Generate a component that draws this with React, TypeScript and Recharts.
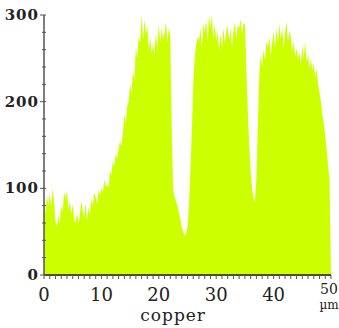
import React from 'react';
import { AreaChart, Area, XAxis, YAxis, Label } from 'recharts';

// Copper line-scan intensity, sampled every 0.25 µm (4 values per µm row)
const STEP_UM = 0.25;
const intensity: number[] = [
  88, 70, 92, 80, // 0
  95, 78, 100, 85, // 1
  62, 55, 68, 60, // 2
  80, 72, 96, 88, // 3
  98, 75, 85, 70, // 4
  82, 65, 60, 72, // 5
  58, 70, 85, 75, // 6
  66, 84, 62, 78, // 7
  70, 88, 80, 95, // 8
  90, 82, 98, 92, // 9
  100, 95, 110, 102, // 10
  105, 100, 120, 115, // 11
  132, 125, 140, 135, // 12
  145, 155, 148, 165, // 13
  185, 175, 195, 200, // 14
  220, 210, 235, 225, // 15
  262, 250, 275, 268, // 16
  300, 272, 295, 278, // 17
  288, 258, 275, 255, // 18
  268, 252, 280, 262, // 19
  290, 268, 285, 272, // 20
  280, 292, 268, 285, // 21
  278, 170, 100, 90, // 22
  85, 80, 72, 65, // 23
  55, 50, 45, 48, // 24
  55, 80, 120, 165, // 25
  220, 250, 265, 275, // 26
  270, 285, 262, 290, // 27
  280, 295, 268, 300, // 28
  285, 300, 272, 290, // 29
  270, 282, 258, 278, // 30
  262, 285, 268, 280, // 31
  288, 270, 285, 262, // 32
  280, 292, 272, 288, // 33
  285, 295, 278, 290, // 34
  290, 240, 190, 150, // 35
  120, 100, 88, 85, // 36
  110, 170, 230, 255, // 37
  240, 260, 248, 270, // 38
  262, 275, 252, 268, // 39
  280, 262, 285, 268, // 40
  290, 272, 285, 262, // 41
  280, 292, 268, 282, // 42
  275, 258, 270, 252, // 43
  262, 248, 258, 242, // 44
  265, 250, 270, 245, // 45
  255, 238, 250, 235, // 46
  245, 228, 238, 220, // 47
  210, 200, 185, 175, // 48
  160, 145, 125, 110, // 49
  0, // 50
];

const xMinorTicks = [
  0, 1, 2, 3, 4, 5, 6, 7, 8, 9, 10, 11, 12, 13, 14, 15, 16, 17, 18, 19, 20,
  21, 22, 23, 24, 25, 26, 27, 28, 29, 30, 31, 32, 33, 34, 35, 36, 37, 38, 39,
  40, 41, 42, 43, 44, 45, 46, 47, 48, 49, 50,
];
const xLabels = [0, 10, 20, 30, 40, 50];
const yTicks = [0, 20, 40, 60, 80, 100, 120, 140, 160, 180, 200, 220, 240, 260, 280, 300];
const yLabels = [0, 100, 200, 300];
const xUnit = 'µm';
const xTitle = 'copper';

const data = intensity.map((v, i) => ({ um: i * STEP_UM, v }));

const FONT = 'DejaVu Serif';
const AXIS = '#555555';

const XTick = (props: any) => {
  const { x, y, payload } = props;
  const v = payload.value;
  const isLabel = xLabels.includes(v);
  return (
    <g>
      <line x1={x} x2={x} y1={y} y2={y + 4} stroke={AXIS} strokeWidth={1} />
      {isLabel && v !== 50 && (
        <text x={x} y={y + 26} textAnchor="middle" fontFamily={FONT} fontSize={18} fill="#222">
          {v}
        </text>
      )}
      {v === 50 && (
        <g>
          <text x={x - 2} y={y + 19} textAnchor="middle" fontFamily={FONT} fontSize={14} fill="#222">
            {v}
          </text>
          <text x={x - 2} y={y + 34} textAnchor="middle" fontFamily={FONT} fontSize={12} fill="#222">
            {xUnit}
          </text>
        </g>
      )}
    </g>
  );
};

const YTick = (props: any) => {
  const { x, y, payload } = props;
  const v = payload.value;
  const isLabel = yLabels.includes(v);
  return (
    <g>
      <line x1={isLabel ? x - 4 : x - 2} x2={x + 2} y1={y} y2={y} stroke={AXIS} strokeWidth={1} />
      {isLabel && (
        <text x={x - 5} y={y} dy={5} textAnchor="end" fontFamily={FONT} fontSize={15} fontWeight="bold" fill="#222" letterSpacing={1}>
          {v}
        </text>
      )}
    </g>
  );
};

const TitleLabel = (props: any) => {
  const vb = props.viewBox || { x: 0, y: 0, width: 0, height: 0 };
  return (
    <text x={vb.x + vb.width * 0.45} y={321} textAnchor="middle" fontFamily={FONT} fontSize={17} fill="#222" letterSpacing={1}>
      {xTitle}
    </text>
  );
};

export default function App() {
  return (
    <div style={{ position: 'absolute', left: 0, top: 0, width: 339, height: 328, background: '#fff', fontFamily: FONT }}>
      <AreaChart width={339} height={328} data={data} margin={{ top: 15, right: 8, bottom: 0, left: 0 }} style={{ fontFamily: FONT }}>
        <XAxis
          dataKey="um"
          type="number"
          domain={[0, 50]}
          ticks={xMinorTicks}
          interval={0}
          tickLine={false}
          tickSize={0}
          tickMargin={0}
          height={53}
          axisLine={{ stroke: '#4d4d2a', strokeWidth: 2 }}
          tick={<XTick />}
        >
          <Label content={<TitleLabel />} position="bottom" />
        </XAxis>
        <YAxis
          type="number"
          domain={[0, 300]}
          ticks={yTicks}
          interval={0}
          width={44}
          tickLine={false}
          tickSize={0}
          tickMargin={0}
          axisLine={{ stroke: AXIS, strokeWidth: 1.5 }}
          tick={<YTick />}
        />
        <Area
          type="linear"
          dataKey="v"
          stroke="none"
          fill="#ccff00"
          fillOpacity={1}
          isAnimationActive={false}
        />
      </AreaChart>
    </div>
  );
}
